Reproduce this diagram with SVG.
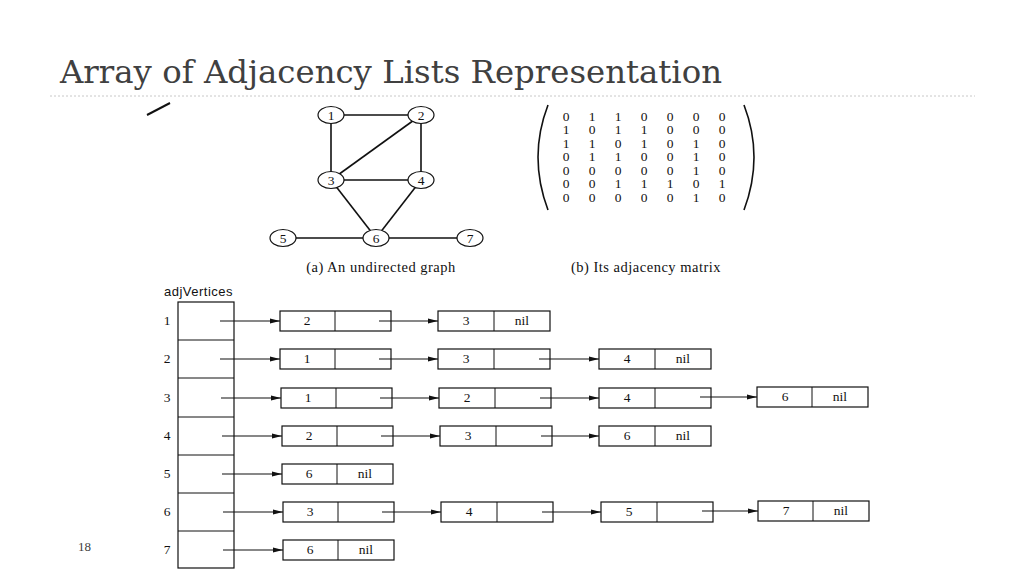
<svg xmlns="http://www.w3.org/2000/svg" width="1024" height="576" viewBox="0 0 1024 576">
<defs><marker id="ah" markerWidth="10" markerHeight="6" refX="10" refY="3" orient="auto" markerUnits="userSpaceOnUse"><path d="M0,0.5 L10,3 L0,5.5 z" fill="#111"/></marker></defs>
<style>
.n{fill:#fff;stroke:#111;stroke-width:1.2}
.e{stroke:#111;stroke-width:1.6;fill:none}
.c{stroke:#111;stroke-width:1.1;marker-end:url(#ah)}
.m{font-family:"Liberation Serif",serif;font-size:13.5px;fill:#111;text-anchor:middle}
</style>
<rect width="1024" height="576" fill="#fff"/>
<text x="60" y="83" font-family="DejaVu Serif,serif" font-size="31" fill="#404040" textLength="662" lengthAdjust="spacingAndGlyphs">Array of Adjacency Lists Representation</text>
<line x1="50" y1="96" x2="975" y2="96" stroke="#c8c8c8" stroke-dasharray="2,2"/>
<line x1="147" y1="115" x2="170" y2="103" stroke="#111" stroke-width="2"/>
<text x="78" y="551" font-family="Liberation Serif,serif" font-size="13" fill="#404040">18</text>
<g id="graph-edges" class="e">
<line x1="331" y1="115" x2="421" y2="115"/><line x1="331" y1="115" x2="331" y2="180"/><line x1="421" y1="115" x2="331" y2="180"/><line x1="421" y1="115" x2="421" y2="180"/><line x1="331" y1="180" x2="421" y2="180"/><line x1="331" y1="180" x2="376" y2="238"/><line x1="421" y1="180" x2="376" y2="238"/><line x1="283" y1="238" x2="470" y2="238"/>
</g>
<g id="v1"><ellipse class="n" cx="331" cy="115" rx="13" ry="8.5"/><text class="m" x="331" y="119.5">1</text></g>
<g id="v2"><ellipse class="n" cx="421" cy="115" rx="13" ry="8.5"/><text class="m" x="421" y="119.5">2</text></g>
<g id="v3"><ellipse class="n" cx="331" cy="180" rx="13" ry="8.5"/><text class="m" x="331" y="184.5">3</text></g>
<g id="v4"><ellipse class="n" cx="421" cy="180" rx="13" ry="8.5"/><text class="m" x="421" y="184.5">4</text></g>
<g id="v5"><ellipse class="n" cx="283" cy="238" rx="13" ry="8.5"/><text class="m" x="283" y="242.5">5</text></g>
<g id="v6"><ellipse class="n" cx="376" cy="238" rx="13" ry="8.5"/><text class="m" x="376" y="242.5">6</text></g>
<g id="v7"><ellipse class="n" cx="470" cy="238" rx="13" ry="8.5"/><text class="m" x="470" y="242.5">7</text></g>
<text class="m" x="381" y="272" style="font-size:14.5px;letter-spacing:0.5px">(a) An undirected graph</text>
<g id="matrix">
<path class="e" stroke-width="1.5" d="M548,105 Q528,157 548,210"/>
<path class="e" stroke-width="1.5" d="M744,105 Q764,157 744,210"/>
<g class="m">
<text x="566" y="121">0</text><text x="592" y="121">1</text><text x="618" y="121">1</text><text x="644" y="121">0</text><text x="670" y="121">0</text><text x="696" y="121">0</text><text x="722" y="121">0</text>
<text x="566" y="134">1</text><text x="592" y="134">0</text><text x="618" y="134">1</text><text x="644" y="134">1</text><text x="670" y="134">0</text><text x="696" y="134">0</text><text x="722" y="134">0</text>
<text x="566" y="148">1</text><text x="592" y="148">1</text><text x="618" y="148">0</text><text x="644" y="148">1</text><text x="670" y="148">0</text><text x="696" y="148">1</text><text x="722" y="148">0</text>
<text x="566" y="161">0</text><text x="592" y="161">1</text><text x="618" y="161">1</text><text x="644" y="161">0</text><text x="670" y="161">0</text><text x="696" y="161">1</text><text x="722" y="161">0</text>
<text x="566" y="175">0</text><text x="592" y="175">0</text><text x="618" y="175">0</text><text x="644" y="175">0</text><text x="670" y="175">0</text><text x="696" y="175">1</text><text x="722" y="175">0</text>
<text x="566" y="188">0</text><text x="592" y="188">0</text><text x="618" y="188">1</text><text x="644" y="188">1</text><text x="670" y="188">1</text><text x="696" y="188">0</text><text x="722" y="188">1</text>
<text x="566" y="202">0</text><text x="592" y="202">0</text><text x="618" y="202">0</text><text x="644" y="202">0</text><text x="670" y="202">0</text><text x="696" y="202">1</text><text x="722" y="202">0</text>
</g>
</g>
<text class="m" x="646" y="272" style="font-size:14.5px;letter-spacing:0.5px">(b) Its adjacency matrix</text>
<text x="164" y="296" font-family="Liberation Sans,sans-serif" font-size="13" letter-spacing="0.5" fill="#111">adjVertices</text>
<g id="array">
<rect class="n" x="178" y="302" width="56" height="266"/>
<path stroke="#111" d="M178,340H234M178,378H234M178,417H234M178,455H234M178,493H234M178,531H234"/>
<g class="m"><text x="167" y="325">1</text><text x="167" y="363">2</text><text x="167" y="402">3</text><text x="167" y="440">4</text><text x="167" y="478">5</text><text x="167" y="516">6</text><text x="167" y="554">7</text></g>
</g>
<g id="lists">
<g><rect class="n" x="280" y="311" width="111" height="20"/><line x1="335" y1="311" x2="335" y2="331" stroke="#111"/><text class="m" x="307" y="325">2</text></g>
<g><rect class="n" x="438" y="311" width="112" height="20"/><line x1="494" y1="311" x2="494" y2="331" stroke="#111"/><text class="m" x="466" y="325">3</text><text class="m" x="522" y="325">nil</text></g>
<g><rect class="n" x="280" y="349" width="111" height="20"/><line x1="335" y1="349" x2="335" y2="369" stroke="#111"/><text class="m" x="307" y="363">1</text></g>
<g><rect class="n" x="438" y="349" width="112" height="20"/><line x1="494" y1="349" x2="494" y2="369" stroke="#111"/><text class="m" x="466" y="363">3</text></g>
<g><rect class="n" x="599" y="349" width="112" height="20"/><line x1="655" y1="349" x2="655" y2="369" stroke="#111"/><text class="m" x="627" y="363">4</text><text class="m" x="683" y="363">nil</text></g>
<g><rect class="n" x="281" y="388" width="111" height="20"/><line x1="336" y1="388" x2="336" y2="408" stroke="#111"/><text class="m" x="308" y="402">1</text></g>
<g><rect class="n" x="439" y="388" width="112" height="20"/><line x1="495" y1="388" x2="495" y2="408" stroke="#111"/><text class="m" x="467" y="402">2</text></g>
<g><rect class="n" x="599" y="388" width="112" height="20"/><line x1="655" y1="388" x2="655" y2="408" stroke="#111"/><text class="m" x="627" y="402">4</text></g>
<g><rect class="n" x="757" y="387" width="111" height="20"/><line x1="812" y1="387" x2="812" y2="407" stroke="#111"/><text class="m" x="785" y="401">6</text><text class="m" x="840" y="401">nil</text></g>
<g><rect class="n" x="282" y="426" width="111" height="20"/><line x1="337" y1="426" x2="337" y2="446" stroke="#111"/><text class="m" x="309" y="440">2</text></g>
<g><rect class="n" x="440" y="426" width="112" height="20"/><line x1="496" y1="426" x2="496" y2="446" stroke="#111"/><text class="m" x="468" y="440">3</text></g>
<g><rect class="n" x="599" y="426" width="112" height="20"/><line x1="655" y1="426" x2="655" y2="446" stroke="#111"/><text class="m" x="627" y="440">6</text><text class="m" x="683" y="440">nil</text></g>
<g><rect class="n" x="282" y="464" width="111" height="20"/><line x1="337" y1="464" x2="337" y2="484" stroke="#111"/><text class="m" x="309" y="478">6</text><text class="m" x="365" y="478">nil</text></g>
<g><rect class="n" x="283" y="502" width="111" height="20"/><line x1="338" y1="502" x2="338" y2="522" stroke="#111"/><text class="m" x="310" y="516">3</text></g>
<g><rect class="n" x="441" y="502" width="112" height="20"/><line x1="497" y1="502" x2="497" y2="522" stroke="#111"/><text class="m" x="469" y="516">4</text></g>
<g><rect class="n" x="601" y="502" width="112" height="20"/><line x1="657" y1="502" x2="657" y2="522" stroke="#111"/><text class="m" x="629" y="516">5</text></g>
<g><rect class="n" x="758" y="501" width="111" height="20"/><line x1="813" y1="501" x2="813" y2="521" stroke="#111"/><text class="m" x="786" y="515">7</text><text class="m" x="841" y="515">nil</text></g>
<g><rect class="n" x="283" y="540" width="111" height="20"/><line x1="338" y1="540" x2="338" y2="560" stroke="#111"/><text class="m" x="310" y="554">6</text><text class="m" x="366" y="554">nil</text></g>
</g>
<g id="connectors">
<line class="c" x1="220" y1="321" x2="280" y2="321"/><line class="c" x1="379" y1="321" x2="438" y2="321"/>
<line class="c" x1="220" y1="359" x2="280" y2="359"/><line class="c" x1="379" y1="359" x2="438" y2="359"/><line class="c" x1="539" y1="359" x2="599" y2="359"/>
<line class="c" x1="221" y1="398" x2="281" y2="398"/><line class="c" x1="380" y1="398" x2="439" y2="398"/><line class="c" x1="540" y1="398" x2="599" y2="398"/><line class="c" x1="700" y1="397" x2="757" y2="397"/>
<line class="c" x1="222" y1="436" x2="282" y2="436"/><line class="c" x1="381" y1="436" x2="440" y2="436"/><line class="c" x1="541" y1="436" x2="599" y2="436"/>
<line class="c" x1="222" y1="474" x2="282" y2="474"/>
<line class="c" x1="223" y1="512" x2="283" y2="512"/><line class="c" x1="382" y1="512" x2="441" y2="512"/><line class="c" x1="542" y1="512" x2="601" y2="512"/><line class="c" x1="702" y1="511" x2="758" y2="511"/>
<line class="c" x1="223" y1="550" x2="283" y2="550"/>
</g>
</svg>
